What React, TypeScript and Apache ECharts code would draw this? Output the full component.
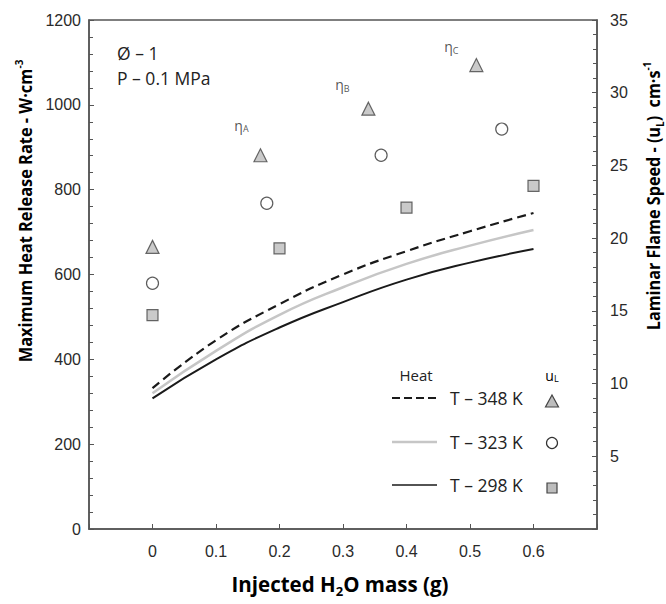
import React, { useEffect, useRef } from 'react';
import * as echarts from 'echarts';

// Heat release rate curves (left axis, W·cm^-3)
const massX = [0, 0.1, 0.2, 0.3, 0.4, 0.5, 0.6];
const heat348 = [332, 445, 530, 600, 655, 702, 745];
const heat323 = [320, 420, 505, 570, 625, 668, 705];
const heat298 = [308, 400, 475, 535, 588, 628, 660];

// Laminar flame speed points (right axis, cm·s^-1)
const tri348X = [0, 0.17, 0.34, 0.51];
const tri348U = [19.4, 25.7, 28.9, 31.9];
const circ323X = [0, 0.18, 0.36, 0.55];
const circ323U = [16.9, 22.4, 25.7, 27.5];
const sq298X = [0, 0.2, 0.4, 0.6];
const sq298U = [14.7, 19.3, 22.1, 23.6];
const etaLabels = ['', 'A', 'B', 'C'];
const etaOffsets = [[0, 0], [-19, -10], [-26, -4], [-25, 2]];

const legendRows = ['T – 348 K', 'T – 323 K', 'T – 298 K'];

const AXIS = '#555';
const LABEL = '#2a2a2a';
const SANS = 'Open Sans';

export default function App() {
  const ref = useRef<HTMLDivElement>(null);
  useEffect(() => {
    if (!ref.current) return;
    const chart = echarts.init(ref.current, undefined, { renderer: 'svg' });
    const tickLabel = { fontSize: 16, color: LABEL, fontFamily: 'Liberation Sans' };
    const mkRich = (fs: number, lh: number) => ({
      t: { fontSize: fs, fontWeight: 'bold', fontFamily: SANS, color: '#222', lineHeight: lh },
      sup: { fontSize: Math.round(fs * 0.62), fontWeight: 'bold', fontFamily: SANS, color: '#222', verticalAlign: 'top', lineHeight: lh },
      sub: { fontSize: Math.round(fs * 0.62), fontWeight: 'bold', fontFamily: SANS, color: '#222', verticalAlign: 'bottom', lineHeight: lh },
    });
    const yRich = mkRich(18, 24);
    const xRich = mkRich(20.5, 27);
    const etaRich = {
      e: { fontSize: 14, fontFamily: SANS, color: LABEL, lineHeight: 16 },
      s: { fontSize: 9, fontFamily: SANS, color: LABEL, verticalAlign: 'bottom', lineHeight: 16 },
    };
    const axisLine = { show: true, onZero: false, lineStyle: { color: AXIS, width: 1.5 } };
    const option: any = {
      animation: false,
      grid: { left: 89, right: 69, top: 20, bottom: 75, show: true, borderColor: AXIS, borderWidth: 1.5, backgroundColor: 'transparent' },
      xAxis: {
        type: 'value', min: -0.1, max: 0.7, interval: 0.1,
        axisLine,
        axisTick: { show: true, inside: true, length: 5, lineStyle: { color: AXIS } },
        splitLine: { show: false },
        axisLabel: {
          ...tickLabel, margin: 14,
          formatter: (v: number) => (v < -0.05 || v > 0.65 ? '' : Math.abs(v) < 1e-9 ? '0' : v.toFixed(1)),
        },
      },
      yAxis: [
        {
          type: 'value', min: 0, max: 1200, interval: 200,
          axisLine,
          axisTick: { show: true, inside: true, length: 5, lineStyle: { color: AXIS } },
          minorTick: { show: true, splitNumber: 5, length: 4, lineStyle: { color: AXIS } },
          splitLine: { show: false },
          axisLabel: { ...tickLabel, margin: 8, formatter: (v: number) => String(v) },
        },
        {
          type: 'value', min: 0, max: 35, interval: 5, position: 'right',
          axisLine,
          axisTick: { show: true, inside: true, length: 5, lineStyle: { color: AXIS } },
          minorTick: { show: true, splitNumber: 5, length: 4, lineStyle: { color: AXIS } },
          splitLine: { show: false },
          axisLabel: { ...tickLabel, margin: 13, formatter: (v: number) => (v === 0 ? '' : String(v)) },
        },
      ],
      series: [
        {
          name: 'T – 348 K', type: 'line', smooth: true, showSymbol: false, symbol: 'none',
          data: massX.map((x, i) => [x, heat348[i]]),
          lineStyle: { color: '#1a1a1a', width: 2.2, type: [9, 5] },
        },
        {
          name: 'T – 323 K', type: 'line', smooth: true, showSymbol: false, symbol: 'none',
          data: massX.map((x, i) => [x, heat323[i]]),
          lineStyle: { color: '#c6c6c6', width: 2.5 },
        },
        {
          name: 'T – 298 K', type: 'line', smooth: true, showSymbol: false, symbol: 'none',
          data: massX.map((x, i) => [x, heat298[i]]),
          lineStyle: { color: '#1a1a1a', width: 2 },
        },
        {
          name: 'uL 348', type: 'scatter', yAxisIndex: 1, symbol: 'triangle', symbolSize: 13,
          itemStyle: { color: '#bdbdbd', borderColor: '#444', borderWidth: 1.2 },
          data: tri348X.map((x, i) => ({
            value: [x, tri348U[i]],
            label: etaLabels[i]
              ? { show: true, position: 'top', offset: etaOffsets[i], formatter: `{e|η}{s|${etaLabels[i]}}`, rich: etaRich }
              : { show: false },
          })),
        },
        {
          name: 'uL 323', type: 'scatter', yAxisIndex: 1, symbol: 'circle', symbolSize: 12,
          itemStyle: { color: '#fff', borderColor: '#333', borderWidth: 1.2 },
          data: circ323X.map((x, i) => [x, circ323U[i]]),
        },
        {
          name: 'uL 298', type: 'scatter', yAxisIndex: 1, symbol: 'rect', symbolSize: 11,
          itemStyle: { color: '#bdbdbd', borderColor: '#444', borderWidth: 1.2 },
          data: sq298X.map((x, i) => [x, sq298U[i]]),
        },
      ],
      graphic: [
        { type: 'text', x: 25, y: 211, rotation: Math.PI / 2, scaleX: 0.91, style: { text: '{t|Maximum Heat Release Rate - W·cm}{sup|-3}', rich: yRich, align: 'center', verticalAlign: 'middle' } },
        { type: 'text', x: 653, y: 196, rotation: Math.PI / 2, scaleX: 0.9, style: { text: '{t|Laminar Flame Speed - (u}{sub|L}{t|)  cm·s}{sup|-1}', rich: yRich, align: 'center', verticalAlign: 'middle' } },
        { type: 'text', x: 340, y: 584, style: { text: '{t|Injected H}{sub|2}{t|O mass (g)}', rich: xRich, align: 'center', verticalAlign: 'middle' } },
        { type: 'text', x: 117, y: 53, style: { text: 'Ø – 1', fontSize: 17.5, fontFamily: SANS, fill: '#222', align: 'left', verticalAlign: 'middle' } },
        { type: 'text', x: 117, y: 78, style: { text: 'P – 0.1 MPa', fontSize: 17.5, fontFamily: SANS, fill: '#222', align: 'left', verticalAlign: 'middle' } },
        { type: 'text', x: 416, y: 375, style: { text: 'Heat', fontSize: 15, fontFamily: SANS, fill: '#222', align: 'center', verticalAlign: 'middle' } },
        { type: 'text', x: 552, y: 375, style: { text: '{e|u}{s|L}', rich: etaRich, align: 'center', verticalAlign: 'middle' } },
        { type: 'line', shape: { x1: 392, y1: 398, x2: 437, y2: 398 }, style: { stroke: '#1a1a1a', lineWidth: 2, lineDash: [8, 4] } },
        { type: 'line', shape: { x1: 392, y1: 442, x2: 437, y2: 442 }, style: { stroke: '#c6c6c6', lineWidth: 2.5 } },
        { type: 'line', shape: { x1: 392, y1: 485, x2: 437, y2: 485 }, style: { stroke: '#1a1a1a', lineWidth: 1.5 } },
        ...legendRows.map((t, i) => ({
          type: 'text', x: 450, y: [398, 442, 485][i],
          style: { text: t, fontSize: 17.5, fontFamily: SANS, fill: '#222', align: 'left', verticalAlign: 'middle' },
        })),
        { type: 'polygon', shape: { points: [[552, 395], [558.5, 407], [545.5, 407]] }, style: { fill: '#bdbdbd', stroke: '#444', lineWidth: 1.2 } },
        { type: 'circle', shape: { cx: 552, cy: 443, r: 5.5 }, style: { fill: '#fff', stroke: '#333', lineWidth: 1.2 } },
        { type: 'rect', shape: { x: 547, y: 483, width: 10, height: 10 }, style: { fill: '#bdbdbd', stroke: '#444', lineWidth: 1.2 } },
      ],
    };
    chart.setOption(option);
    return () => chart.dispose();
  }, []);
  return <div ref={ref} style={{ position: 'fixed', left: 0, top: 0, width: 666, height: 604, background: '#fff' }} />;
}
